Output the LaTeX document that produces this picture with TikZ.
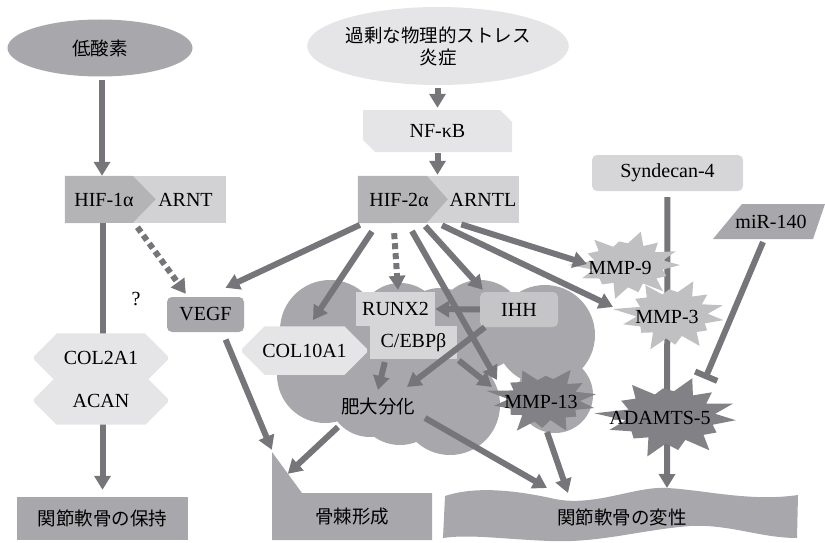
\documentclass[tikz,border=0pt]{standalone}
\usepackage{fontspec}
\setmainfont{Liberation Serif}
\newfontfamily\jpfont{Noto Sans CJK JP}
\usepackage{xcolor}
\usepackage{tikz}
\usetikzlibrary{arrows.meta,shapes.geometric,shapes.misc}

\definecolor{arrowgray}{RGB}{118,118,122}
\definecolor{darkgray}{RGB}{130,130,134}
\definecolor{midgray}{RGB}{168,168,172}
\definecolor{hifdark}{RGB}{180,180,183}
\definecolor{hiflight}{RGB}{210,210,212}
\definecolor{boxgray}{RGB}{214,214,216}
\definecolor{ihhgray}{RGB}{197,197,200}
\definecolor{stargray}{RGB}{192,192,195}
\definecolor{palegray}{RGB}{229,229,231}

\newcommand{\burstshape}[5]{%
    \fill[#5] ([shift={(#4-12.857:{#2*0.68} and {#3*0.68})}]#1)
        \foreach \k/\m [count=\n from 0] in {1.00/0.68,0.82/0.70,1.08/0.66,0.90/0.72,1.12/0.64,0.80/0.70,0.98/0.68,
            1.15/0.66,0.86/0.72,1.04/0.65,0.78/0.70,1.10/0.68,0.92/0.66,1.02/0.70}
        { -- ([shift={(#4+\n*25.714:{#2*\k} and {#3*\k})}]#1) -- ([shift={(#4+\n*25.714+12.857:{#2*\m} and {#3*\m})}]#1) }
        -- cycle;
}

\tikzset{
    arr/.style={line width=6pt,draw=arrowgray,-{Triangle[width=16pt,length=14pt]}},
    dotarr/.style={arr,dash pattern=on 6pt off 4pt},
    inhib/.style={line width=6pt,draw=arrowgray,-{Bar[width=24pt]}},
    jp/.style={font=\jpfont\fontsize{18.5}{22}\selectfont},
    hexbox/.style={chamfered rectangle,chamfered rectangle xsep=5pt,chamfered rectangle ysep=17.5pt,fill=palegray}
}

\begin{document}
\begin{tikzpicture}[x=1pt,y=-1pt,every node/.style={font=\rmfamily\fontsize{20}{22}\selectfont,inner sep=0pt}]
    \useasboundingbox (0,0) rectangle (825,543);

    \fill[midgray] (330,330) circle[radius=50pt] (400,325) circle[radius=42pt]
        (440,330) circle[radius=42pt] (480,325) circle[radius=45pt]
        (545,335) circle[radius=50pt] (555,395) circle[radius=38pt]
        (450,405) circle[radius=50pt] (400,400) circle[radius=45pt]
        (370,395) circle[radius=42pt] (325,375) circle[radius=48pt];

    \node[jp,ellipse,fill=midgray,minimum width=185pt,minimum height=57pt] (hypo) at (100,48) {低酸素};
    \node[jp,ellipse,fill=palegray,minimum width=237pt,minimum height=78pt,align=center] (stress) at (438,46) {過剰な物理的ストレス\\炎症};
    \node[chamfered rectangle,chamfered rectangle corners={north east,south west},chamfered rectangle sep=6pt,
        fill=palegray,minimum width=149pt,minimum height=42pt] (nfkb) at (437.5,131) {NF-κB};

    \node[fill=hiflight,minimum width=161pt,minimum height=47pt] (hif1) at (145.5,199.5) {};
    \fill[hifdark] (hif1.north west) -- ++(68,0) -- ++(23,23.5) -- ++(-23,23.5) -- (hif1.south west) -- cycle;
    \node (hif1a) at (104,200) {HIF-1α};
    \node (arnt) at (185.5,200) {ARNT};

    \node[fill=hiflight,minimum width=161pt,minimum height=47pt] (hif2) at (438.5,199.5) {};
    \fill[hifdark] (hif2.north west) -- ++(69,0) -- ++(21,23.5) -- ++(-21,23.5) -- (hif2.south west) -- cycle;
    \node (hif2a) at (399,200) {HIF-2α};
    \node (arntl) at (483,200) {ARNTL};

    \node[rounded corners=5pt,fill=boxgray,minimum width=151pt,minimum height=36pt] (synd) at (667.5,173) {Syndecan-4};
    \fill[midgray] (742,204) -- (825,204) -- (813,239) -- (713,239) -- cycle;
    \node (mir) at (771,222) {miR-140};

    \node[jp,fill=midgray,minimum width=171pt,minimum height=43pt] (keep) at (102.5,518.5) {関節軟骨の保持};
    \fill[midgray] (272,452) -- (302,493) -- (432,493) -- (432,540) -- (272,540) -- cycle;
    \node[jp,minimum width=160pt,minimum height=47pt] (oste) at (352,516.5) {骨棘形成};
    \fill[midgray] (445,496) .. controls (475,486) and (515,490) .. (555,499)
        .. controls (595,507) and (635,486) .. (667,488)
        .. controls (705,490) and (750,502) .. (798,495) -- (797,538)
        .. controls (760,538) and (730,524) .. (690,526)
        .. controls (640,530) and (600,543) .. (550,541)
        .. controls (500,539) and (470,534) .. (443,538) -- cycle;
    \node[jp] (degen) at (622,517) {関節軟骨の変性};

    \draw[arr,shorten >=7pt] (keep.north |- hif1.south) -- (keep.north);
    \draw[arr,shorten <=6pt] (synd.south) -- ([xshift=45pt,yshift=29pt]degen.center);

    \node[hexbox,minimum width=134pt,minimum height=36pt,chamfered rectangle ysep=18pt] (col2) at (101,358) {COL2A1};
    \node[hexbox,minimum width=134pt,minimum height=35pt] (acan) at (101,400.5) {ACAN};
    \node[rounded corners=5pt,fill=midgray,minimum width=77pt,minimum height=35pt] (vegf) at (205.5,314.5) {VEGF};
    \node[hexbox,minimum width=125pt,minimum height=35pt] (col10) at (304.5,350.5) {COL10A1};
    \node[fill=boxgray,minimum width=79pt,minimum height=34pt] (runx) at (395.5,309) {RUNX2};
    \node[fill=boxgray,minimum width=87pt,minimum height=33pt] (cebp) at (413.5,342.5) {C/EBPβ};
    \node[rounded corners=5pt,fill=ihhgray,minimum width=78pt,minimum height=35pt] (ihh) at (519,309.5) {IHH};
    \node[jp] (hyper) at (378,407) {肥大分化};
    \node (q) at (136,299) {?};

    \burstshape{628,265}{52}{31}{0}{stargray}
    \node (mmp9) at (620,268) {MMP-9};
    \burstshape{672,315}{52}{33}{9}{stargray}
    \node (mmp3) at (667,317) {MMP-3};
    \burstshape{544,400}{52}{31}{15}{darkgray}
    \node (mmp13) at (541,402) {MMP-13};
    \burstshape{670,417}{66}{37}{5}{darkgray}
    \node (adamts) at (660,418) {ADAMTS-5};

    \draw[arr,shorten <=3pt] ([xshift=2pt]hypo.south) -- ([xshift=2pt]hypo.south |- hif1.north);
    \draw[dotarr,shorten <=5pt] ([xshift=-11pt]hif1.south) -- ([xshift=19pt,yshift=3pt]vegf.north west);
    \draw[arr,shorten <=3pt,shorten >=2pt] (nfkb.north |- stress.south) -- (nfkb.north);
    \draw[arr,shorten <=1pt,shorten >=1pt] (nfkb.south) -- (nfkb.south |- hif2.north);

    \draw[arr,shorten <=4pt] ([xshift=-75pt]hif2.south) -- ([xshift=20pt,yshift=9pt]vegf.north);
    \draw[arr,shorten <=10pt] ([xshift=-61pt]hif2.south) -- ([xshift=8.5pt,yshift=6pt]col10.north);
    \draw[dotarr,shorten <=10pt] ([xshift=-45pt]hif2.south) -- ([xshift=2.5pt,yshift=2pt]runx.north);
    \draw[arr,shorten <=9pt] ([xshift=-31pt]hif2.south) -- ([xshift=-44pt,yshift=22pt]mmp13.center);
    \draw[arr,shorten <=4pt] ([xshift=-16pt]hif2.south) -- ([xshift=3pt,yshift=2pt]ihh.north west);
    \draw[arr,shorten <=5pt] ([xshift=-1pt]hif2.south) -- ([xshift=-54pt,yshift=10pt]mmp3.center);
    \draw[arr,shorten <=4pt] ([xshift=19pt]hif2.south) -- ([xshift=-33pt,yshift=4pt]mmp9.center);

    \draw[arr] (ihh.west) -- (runx.east);
    \draw[arr] ([xshift=5pt]ihh.south west) -- ([xshift=29pt,yshift=20pt]hyper.center);
    \draw[arr,shorten <=3pt] ([xshift=-28pt]cebp.south) -- ([yshift=17pt]hyper.center);
    \draw[arr,shorten <=2pt] (cebp.south east) -- ([xshift=-49pt,yshift=15pt]mmp13.center);

    \draw[arr,shorten <=8pt] ([xshift=17pt]vegf.south) -- ([yshift=43pt]oste.north west);
    \draw[arr] ([xshift=-40pt,yshift=-20pt]hyper.center) -- ([xshift=16pt,yshift=19pt]oste.north west);
    \draw[arr] ([xshift=47pt,yshift=-11pt]hyper.center) -- ([xshift=-75pt,yshift=29pt]degen.center);
    \draw[arr] ([xshift=6pt,yshift=-30pt]mmp13.center) -- ([xshift=-54pt,yshift=24pt]degen.center);
    \draw[inhib] ([xshift=-8pt,yshift=-20pt]mir.center) -- ([xshift=45pt,yshift=39pt]adamts.center);
\end{tikzpicture}
\end{document}
